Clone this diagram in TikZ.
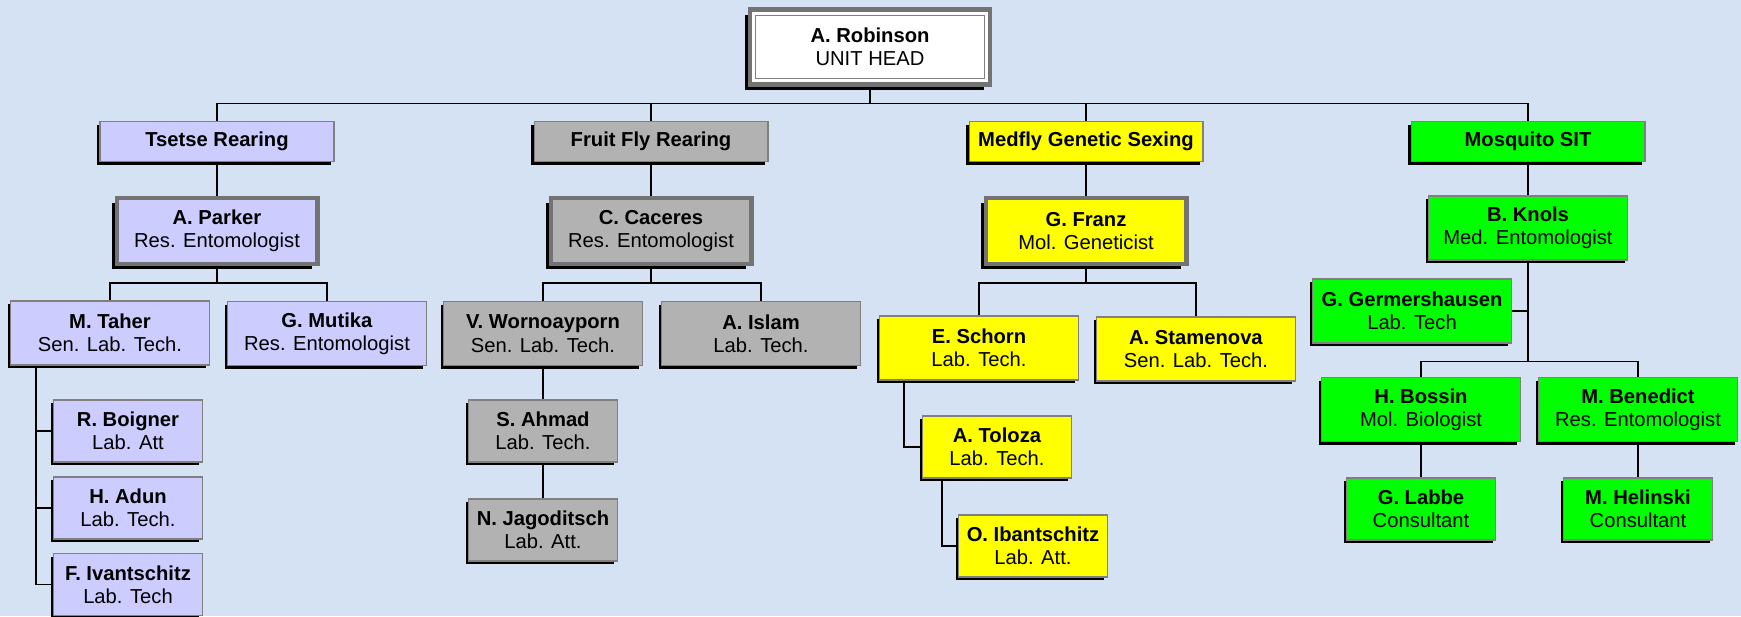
\documentclass[tikz,border=0pt]{standalone}
\usepackage{fontspec}
\setmainfont{Liberation Sans}
\usetikzlibrary{shadows,calc}

\definecolor{paper}{RGB}{212,226,244}
\definecolor{edge}{RGB}{128,128,128}
\definecolor{tsetsefill}{RGB}{204,204,255}
\definecolor{fruitfill}{RGB}{178,178,178}
\definecolor{medflyfill}{RGB}{255,255,0}
\definecolor{mosqfill}{RGB}{0,255,0}

\tikzset{
  box/.style={draw=edge, line width=0.6pt, align=center, inner sep=0pt,
    font=\fontsize{11.5}{13.3}\selectfont},
  unit/.style={box, drop shadow={shadow xshift=-0.06cm, shadow yshift=-0.06cm, fill=black, opacity=1}},
  dept/.style={unit, minimum width=4.68cm, minimum height=0.8cm,
    font=\fontsize{11.5}{13.3}\selectfont\bfseries},
  chief/.style={box, draw=edge!90!black, line width=2.3pt, minimum width=4.02cm, minimum height=1.32cm,
    drop shadow={shadow xshift=-0.1cm, shadow yshift=-0.1cm, fill=black, opacity=1}},
  headbox/.style={box, draw=edge!90!black, fill=white, line width=2.8pt, minimum width=4.8cm, minimum height=1.5cm,
    drop shadow={shadow xshift=-0.11cm, shadow yshift=-0.11cm, fill=black, opacity=1}},
  staff/.style={unit, minimum width=3.98cm, minimum height=1.28cm},
  assist/.style={unit, minimum width=2.98cm, minimum height=1.24cm},
  link/.style={draw=black, line width=0.6pt},
}

\begin{document}
\begin{tikzpicture}[x=0.02cm, y=-0.02cm]
  \useasboundingbox (0,0) rectangle (1741,616);
  \fill[paper] (0,0) rectangle (1741,616);

  % head of unit
  \node[headbox] (head) at (870,47) {\textbf{A. Robinson}\\UNIT HEAD};
  \draw[edge, line width=0.6pt] ($(head.north west)+(8,8)$) rectangle ($(head.south east)+(-8,-8)$);

  % sections
  \node[dept, fill=tsetsefill] (tsetse) at (217,141.5) {Tsetse Rearing};
  \node[dept, fill=fruitfill] (fruit) at (651,141.5) {Fruit Fly Rearing};
  \node[dept, fill=medflyfill] (medfly) at (1086,141.5) {Medfly Genetic Sexing};
  \node[dept, fill=mosqfill] (mosquito) at (1528,141.5) {Mosquito SIT};

  % section leaders
  \node[chief, fill=tsetsefill] (parker) at (217,231) {\textbf{A. Parker}\\Res. Entomologist};
  \node[chief, fill=fruitfill] (caceres) at (651,231) {\textbf{C. Caceres}\\Res. Entomologist};
  \node[chief, fill=medflyfill] (franz) at (1086,231) {\textbf{G. Franz}\\Mol. Geneticist};
  \node[staff, fill=mosqfill] (knols) at (1528,228) {\textbf{B. Knols}\\Med. Entomologist};

  % staff
  \node[staff, fill=tsetsefill] (taher) at (110,333) {\textbf{M. Taher}\\Sen. Lab. Tech.};
  \node[staff, fill=tsetsefill] (mutika) at (327,333.5) {\textbf{G. Mutika}\\Res. Entomologist};
  \node[staff, fill=fruitfill] (wornoayporn) at (543,333.5) {\textbf{V. Wornoayporn}\\Sen. Lab. Tech.};
  \node[staff, fill=fruitfill] (islam) at (761,333.5) {\textbf{A. Islam}\\Lab. Tech.};
  \node[staff, fill=medflyfill] (schorn) at (979,348) {\textbf{E. Schorn}\\Lab. Tech.};
  \node[staff, fill=medflyfill] (stamenova) at (1196,349) {\textbf{A. Stamenova}\\Sen. Lab. Tech.};
  \node[staff, fill=mosqfill] (germershausen) at (1412,311) {\textbf{G. Germershausen}\\Lab. Tech};
  \node[staff, fill=mosqfill] (bossin) at (1421,409.5) {\textbf{H. Bossin}\\Mol. Biologist};
  \node[staff, fill=mosqfill] (benedict) at (1638,409.5) {\textbf{M. Benedict}\\Res. Entomologist};

  % assistants
  \node[assist, fill=tsetsefill] (boigner) at (128,431) {\textbf{R. Boigner}\\Lab. Att};
  \node[assist, fill=tsetsefill] (adun) at (128,508) {\textbf{H. Adun}\\Lab. Tech.};
  \node[assist, fill=tsetsefill] (ivantschitz) at (128,584.5) {\textbf{F. Ivantschitz}\\Lab. Tech};
  \node[assist, fill=fruitfill] (ahmad) at (543,431) {\textbf{S. Ahmad}\\Lab. Tech.};
  \node[assist, fill=fruitfill] (jagoditsch) at (543,530) {\textbf{N. Jagoditsch}\\Lab. Att.};
  \node[assist, fill=medflyfill] (toloza) at (997,447) {\textbf{A. Toloza}\\Lab. Tech.};
  \node[assist, fill=medflyfill] (ibantschitz) at (1033,546) {\textbf{O. Ibantschitz}\\Lab. Att.};
  \node[assist, fill=mosqfill] (labbe) at (1421,509) {\textbf{G. Labbe}\\Consultant};
  \node[assist, fill=mosqfill] (helinski) at (1638,509) {\textbf{M. Helinski}\\Consultant};

  % connectors
  \path (head.south) ++(0,17) coordinate (headfork);
  \draw[link] (head.south) -- (headfork);
  \foreach \d in {tsetse,fruit,medfly,mosquito}
    \draw[link] (headfork) -| (\d.north);

  \foreach \a/\b in {tsetse/parker,fruit/caceres,medfly/franz,mosquito/knols,
      wornoayporn/ahmad,ahmad/jagoditsch,bossin/labbe,benedict/helinski}
    \draw[link] (\a) -- (\b);

  \foreach \p/\l/\r in {parker/taher/mutika,caceres/wornoayporn/islam,franz/schorn/stamenova}{
    \path (\p.south) ++(0,17) coordinate (\p fork);
    \draw[link] (\p.south) -- (\p fork);
    \draw[link] (\p fork) -| (\l.north);
    \draw[link] (\p fork) -| (\r.north);
  }

  \path (knols.south) ++(0,101) coordinate (knolsfork);
  \draw[link] (knols.south) -- (knolsfork);
  \draw[link] (knolsfork) -| (bossin.north);
  \draw[link] (knolsfork) -| (benedict.north);
  \draw[link] (germershausen.east) -- (germershausen.east -| knols.south);

  \coordinate (taherleg) at ($(taher.south west)+(26,0)$);
  \foreach \s in {boigner,adun,ivantschitz}
    \draw[link] (taherleg) |- (\s.west);
  \coordinate (schornleg) at ($(schorn.south west)+(25,0)$);
  \draw[link] (schornleg) |- (toloza.west);
  \coordinate (tolozaleg) at ($(toloza.south west)+(20,0)$);
  \draw[link] (tolozaleg) |- (ibantschitz.west);
\end{tikzpicture}
\end{document}
